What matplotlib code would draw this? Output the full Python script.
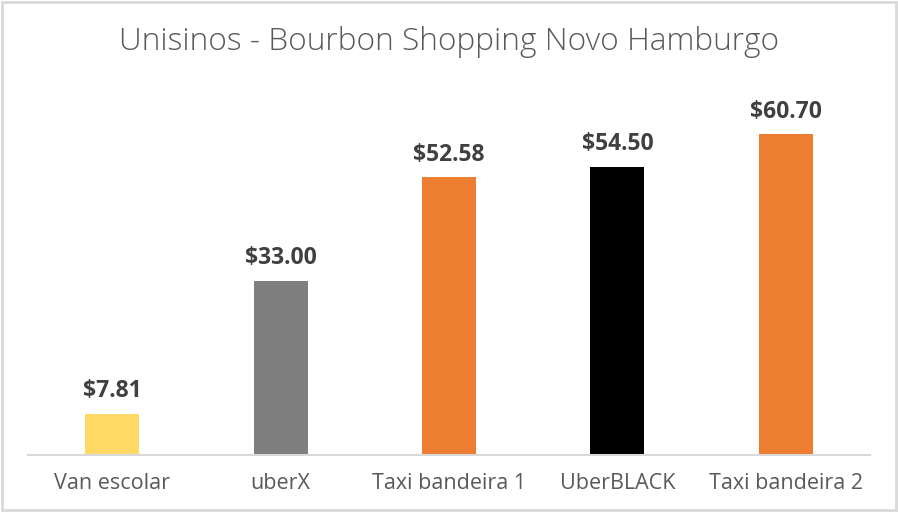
import matplotlib.pyplot as plt
from matplotlib.patches import Rectangle

categories = ["Van escolar", "uberX", "Taxi bandeira 1", "UberBLACK", "Taxi bandeira 2"]
prices = [7.81, 33.00, 52.58, 54.50, 60.70]
bar_colors = ["#FFD966", "#7F7F7F", "#ED7D31", "#000000", "#ED7D31"]
title = "Unisinos - Bourbon Shopping Novo Hamburgo"

plt.rcParams['font.family'] = ['Open Sans', 'DejaVu Sans']

fig = plt.figure(figsize=(8.98, 5.12), dpi=100)
ax = fig.add_axes([28 / 898, 57 / 512, 842 / 898, 370 / 512])

x = range(len(categories))
ax.bar(x, prices, width=0.32, color=bar_colors, zorder=2)

for xi, v in zip(x, prices):
    ax.text(xi, v + 2.0, f"${v:.2f}", ha="center", va="bottom",
            fontsize=16.5, fontweight="bold", color="#404040")

ax.set_xlim(-0.5, len(categories) - 0.5)
ax.set_ylim(0, 70)
ax.set_xticks(list(x))
ax.set_xticklabels(categories, fontsize=15.5, color="#595959")
ax.tick_params(axis="x", length=0, pad=13)
ax.set_yticks([])
for s in ["top", "left", "right"]:
    ax.spines[s].set_visible(False)
ax.spines["bottom"].set_color("#D9D9D9")
ax.spines["bottom"].set_linewidth(1.5)

fig.text(0.5, 1 - 42 / 512, title, ha="center", va="center",
         fontsize=22.8, color="#595959", fontweight="light")

fig.patches.append(Rectangle((0.002, 0.003), 0.996, 0.994, transform=fig.transFigure,
                             fill=False, edgecolor="#D9D9D9", linewidth=2))

fig.savefig("out.png", dpi=100)
